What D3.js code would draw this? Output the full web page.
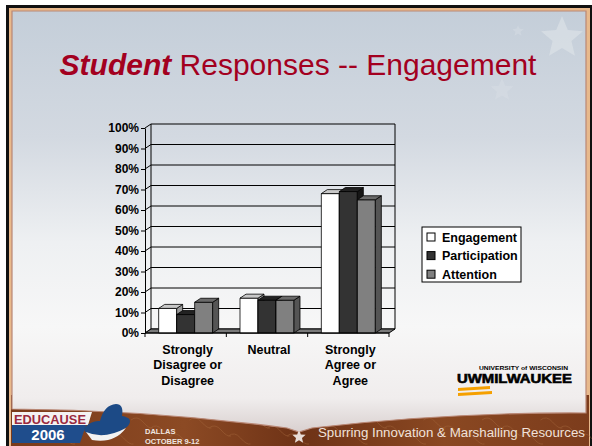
<!DOCTYPE html>
<html>
<head>
<meta charset="utf-8">
<script src="https://cdn.jsdelivr.net/npm/d3@7"></script>
<style>
  body { margin:0; background:#fff; }
  svg { display:block; font-family:"Liberation Sans", Arial, sans-serif; }
</style>
</head>
<body>
<script>
// chart data
const categories = [["Strongly","Disagree or","Disagree"], ["Neutral"], ["Strongly","Agree or","Agree"]];
const seriesNames = ["Engagement", "Participation", "Attention"];
const engagement = [12, 17, 68];
const participation = [9, 16, 69];
const attention = [15, 16, 65];
const yTicks = [0, 10, 20, 30, 40, 50, 60, 70, 80, 90, 100];

const seriesValues = [engagement, participation, attention];
const faces = [
  {front:"#ffffff", top:"#c8c8c8", side:"#9a9a9a"},
  {front:"#333333", top:"#222222", side:"#161616"},
  {front:"#808080", top:"#6a6a6a", side:"#555555"}
];

const W = 592, H = 446;
const svg = d3.select("body").append("svg").attr("width", W).attr("height", H);
const defs = svg.append("defs");

const bg = defs.append("linearGradient").attr("id","panelBg").attr("x1",0).attr("y1",0).attr("x2",0).attr("y2",1);
[["0","#c4ced9"],["0.3","#d3d9e1"],["0.55","#eef0f2"],["0.75","#f7f7f7"],["0.92","#f0eded"],["1","#d9d0cf"]]
  .forEach(s => bg.append("stop").attr("offset", s[0]).attr("stop-color", s[1]));

const brown = defs.append("linearGradient").attr("id","brownBg").attr("x1",0).attr("y1",0).attr("x2",1).attr("y2",0);
[["0","#7a3a1a"],["0.3","#8c4a24"],["0.5","#6e3216"],["0.75","#8a4822"],["1","#7c3c1c"]]
  .forEach(s => brown.append("stop").attr("offset", s[0]).attr("stop-color", s[1]));

// frame
svg.append("rect").attr("x",0).attr("y",0).attr("width",W).attr("height",H).attr("fill","#fff");
svg.append("rect").attr("x",6).attr("y",5).attr("width",586).attr("height",441).attr("fill","#111");
svg.append("rect").attr("x",9).attr("y",8).attr("width",581).attr("height",438).attr("fill","#e8b98c");
svg.append("rect").attr("x",11).attr("y",395).attr("width",578).attr("height",51).attr("fill","url(#brownBg)");

// leather streaks
const streaks = svg.append("g").attr("stroke","#a86a3e").attr("stroke-width",1).attr("fill","none").attr("opacity",0.45);
for (let i = 0; i < 30; i++) {
  const sx = 14 + i * 19.5, sy = 420 + (i % 3) * 8;
  streaks.append("path").attr("d", `M${sx},${sy} q6,-5 12,2 t10,6`);
}

// slide panel with curved bottom
svg.append("path")
  .attr("d", "M12,11 L586,11 L586,413 Q450,412 312,428 L299,432 L287,428 Q150,410 12,409 Z")
  .attr("fill","url(#panelBg)").attr("stroke","#b98775").attr("stroke-width",1.2);

// faint stars
function starPath(cx, cy, r) {
  const pts = [];
  for (let i = 0; i < 10; i++) {
    const a = -Math.PI/2 + i * Math.PI/5, rr = i % 2 ? r*0.45 : r;
    pts.push([cx + rr*Math.cos(a), cy + rr*Math.sin(a)]);
  }
  return "M" + pts.map(p => p.join(",")).join("L") + "Z";
}
svg.append("path").attr("d", starPath(562, 38, 22)).attr("fill","#e6eaee").attr("opacity",0.45);
svg.append("path").attr("d", starPath(502, 90, 12)).attr("fill","#dde2e7").attr("opacity",0.35);
svg.append("path").attr("d", starPath(518, 31, 6)).attr("fill","#dde2e7").attr("opacity",0.35);
svg.append("path").attr("d", starPath(299, 437, 7)).attr("fill","#e8dcd6");

// title
const title = svg.append("text").attr("x",298).attr("y",75).attr("text-anchor","middle")
  .attr("font-size",30).attr("fill","#a3001f");
title.append("tspan").attr("font-weight","bold").attr("font-style","italic").text("Student");
title.append("tspan").text(" Responses -- Engagement");

// chart
const DX = 6, DY = 4;
const x = d3.scaleBand().domain(d3.range(categories.length)).range([145, 389]);
const xs = d3.scaleBand().domain(seriesNames).range([0, 54]);
const y = d3.scaleLinear().domain([0, 100]).range([333, 128]);
const [x0r, x1r] = x.range();

const chart = svg.append("g");

// back wall + gridlines
const back = chart.append("g").attr("transform", `translate(${DX},${-DY})`)
  .attr("stroke","#000").attr("stroke-width",1);
back.selectAll("line.grid").data(yTicks).enter().append("line")
  .attr("x1", x0r).attr("x2", x1r).attr("y1", d => y(d)).attr("y2", d => y(d));
back.append("line").attr("x1",x0r).attr("x2",x0r).attr("y1",y(0)).attr("y2",y(100));
back.append("line").attr("x1",x1r).attr("x2",x1r).attr("y1",y(0)).attr("y2",y(100));

// side wall links
chart.append("g").attr("stroke","#000").attr("stroke-width",1)
  .selectAll("line").data(yTicks).enter().append("line")
  .attr("x1", x0r).attr("y1", d => y(d)).attr("x2", x0r + DX).attr("y2", d => y(d) - DY);

// floor
chart.append("polygon")
  .attr("points", [[x0r,y(0)],[x1r,y(0)],[x1r+DX,y(0)-DY],[x0r+DX,y(0)-DY]].map(p=>p.join(",")).join(" "))
  .attr("fill","#7a7a7a").attr("stroke","#000").attr("stroke-width",1);

// bars
const bars = chart.append("g").attr("stroke","#000").attr("stroke-width",0.8).attr("stroke-linejoin","round");
categories.forEach((c, i) => {
  seriesNames.forEach((name, s) => {
    const v = seriesValues[s][i];
    const bx = x(i) + (x.bandwidth() - 54) / 2 + xs(name);
    const w = xs.bandwidth();
    const yt = y(v), yb = y(0);
    const f = faces[s];
    bars.append("rect").attr("x", bx).attr("y", yt).attr("width", w).attr("height", yb - yt).attr("fill", f.front);
    bars.append("polygon").attr("fill", f.side)
      .attr("points", [[bx+w,yt],[bx+w+DX,yt-DY],[bx+w+DX,yb-DY],[bx+w,yb]].map(p=>p.join(",")).join(" "));
    bars.append("polygon").attr("fill", f.top)
      .attr("points", [[bx,yt],[bx+DX,yt-DY],[bx+w+DX,yt-DY],[bx+w,yt]].map(p=>p.join(",")).join(" "));
  });
});

// y axis (front)
const yAxis = chart.append("g").attr("transform", `translate(${x0r},0)`)
  .call(d3.axisLeft(y).tickValues(yTicks).tickFormat(d => d + "%").tickSizeInner(4).tickSizeOuter(0).tickPadding(2));
yAxis.select(".domain").attr("stroke","#000");
yAxis.selectAll(".tick line").attr("stroke","#000");
yAxis.selectAll("text").attr("font-size",12).attr("font-weight","bold").attr("fill","#000")
  .attr("font-family","Liberation Sans, Arial, sans-serif");

// x axis ticks + labels
const bounds = d3.range(categories.length).map(i => x(i)).concat([x1r]);
chart.append("g").attr("stroke","#000").selectAll("line").data(bounds).enter().append("line")
  .attr("x1", d => d).attr("x2", d => d).attr("y1", y(0)).attr("y2", y(0) + 4);
chart.append("line").attr("x1",x0r).attr("x2",x1r).attr("y1",y(0)).attr("y2",y(0)).attr("stroke","#000");

const xl = chart.append("g").attr("font-size",12.5).attr("font-weight","bold").attr("text-anchor","middle");
categories.forEach((lines, i) => {
  const t = xl.append("text").attr("x", x(i) + x.bandwidth()/2 + 2).attr("y", 353.5);
  lines.forEach((ln, k) => t.append("tspan").attr("x", x(i) + x.bandwidth()/2 + 2).attr("dy", k ? 15.8 : 0).text(ln));
});

// legend
const lg = svg.append("g").attr("transform","translate(422,227)");
lg.append("rect").attr("width",99).attr("height",55).attr("fill","#fff").attr("stroke","#000");
seriesNames.forEach((name, s) => {
  const cy = 10 + s * 18.6;
  lg.append("rect").attr("x",5).attr("y",cy-4).attr("width",8).attr("height",8)
    .attr("fill", faces[s].front).attr("stroke","#000");
  lg.append("text").attr("x",20).attr("y",cy+4.5).attr("font-size",12.5).attr("font-weight","bold").text(name);
});

// UW-Milwaukee logo
const uw = svg.append("g");
uw.append("text").attr("x",479).attr("y",370).attr("font-size",5).attr("font-weight","bold")
  .attr("textLength",89).attr("lengthAdjust","spacingAndGlyphs").text("UNIVERSITY of WISCONSIN");
uw.append("text").attr("x",457).attr("y",383).attr("font-size",13).attr("font-weight","bold")
  .attr("textLength",115).attr("lengthAdjust","spacingAndGlyphs").attr("stroke","#000").attr("stroke-width",0.6)
  .text("UWMILWAUKEE");
uw.append("path").attr("d","M458,388 L490,386 L490,389 L458,391 Z M458,393 L492,391 L492,394 L458,396 Z")
  .attr("fill","#f5a000");

// EDUCAUSE logo
const ed = svg.append("g");
ed.append("path").attr("d","M12,412 L92,412 L88,425 L12,425 Z").attr("fill","#f4f2f2");
ed.append("text").attr("x",14).attr("y",424).attr("font-size",13).attr("font-weight","bold")
  .attr("fill","#9a2a40").attr("textLength",72).attr("lengthAdjust","spacingAndGlyphs").text("EDUCAUSE");
ed.append("path").attr("d","M12,425 L86,425 L80,443 L12,443 Z").attr("fill","#1f4d8c");
ed.append("text").attr("x",48).attr("y",440).attr("font-size",15).attr("font-weight","bold")
  .attr("fill","#fff").attr("text-anchor","middle").text("2006");
// hat
ed.append("path").attr("d","M84,428 Q92,420 100,421 Q104,405 116,404 Q124,404 122,416 Q134,418 128,426 Q112,440 92,434 Q84,434 84,428 Z")
  .attr("fill","#1c4a86");
ed.append("path").attr("d","M86,432 Q104,440 126,428 Q114,444 92,440 Z").attr("fill","#f2f2f2");
ed.append("text").attr("x",145).attr("y",434).attr("font-size",7.5).attr("font-weight","bold").attr("fill","#f0e6e0").text("DALLAS");
ed.append("text").attr("x",145).attr("y",444).attr("font-size",7.5).attr("font-weight","bold").attr("fill","#f0e6e0").text("OCTOBER 9-12");

svg.append("text").attr("x",318).attr("y",437).attr("font-size",12).attr("fill","#f1e2da")
  .attr("textLength",267).attr("lengthAdjust","spacingAndGlyphs")
  .text("Spurring Innovation & Marshalling Resources");
</script>
</body>
</html>
